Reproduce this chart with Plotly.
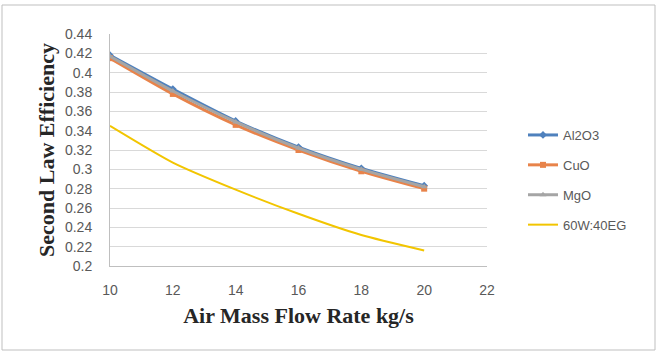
import plotly.graph_objects as go

flow = [10, 12, 14, 16, 18, 20]
al2o3 = [0.418, 0.383, 0.350, 0.323, 0.301, 0.283]
cuo = [0.415, 0.378, 0.346, 0.320, 0.298, 0.280]
mgo = [0.417, 0.381, 0.349, 0.322, 0.300, 0.282]
base = [0.345, 0.307, 0.279, 0.254, 0.232, 0.216]

yticks = [0.2, 0.22, 0.24, 0.26, 0.28, 0.3, 0.32, 0.34, 0.36, 0.38, 0.4, 0.42, 0.44]
yticktext = ["0.2", "0.22", "0.24", "0.26", "0.28", "0.3", "0.32", "0.34", "0.36", "0.38", "0.4", "0.42", "0.44"]
xticks = [10, 12, 14, 16, 18, 20, 22]

L, R, T, B = 110, 170, 34, 86
W, H = 657, 352
pw, ph = W - L - R, H - T - B

fig = go.Figure()
series = [
    ("Al2O3", al2o3, "#4F81BD", "diamond", 3),
    ("CuO", cuo, "#E8834A", "square", 3),
    ("MgO", mgo, "#A5A5A5", "triangle-up", 3),
    ("60W:40EG", base, "#F2C500", None, 2),
]
for name, ys, col, sym, w in series:
    kw = dict(mode="lines+markers", marker=dict(symbol=sym, size=6, color=col)) if sym else dict(mode="lines")
    fig.add_trace(go.Scatter(x=flow, y=ys, name=name, legendgroup=name,
                             line=dict(color=col, width=w, shape="spline", smoothing=0.6), **kw))

fig.update_layout(
    width=W, height=H,
    margin=dict(l=L, r=R, t=T, b=B),
    plot_bgcolor="white", paper_bgcolor="white",
    font=dict(family="Liberation Sans", size=14, color="#595959"),
    legend=dict(x=(523 - L) / pw, y=(H - B - 120) / ph, xanchor="left", yanchor="top",
                tracegroupgap=10, font=dict(size=13, color="#595959"), bgcolor="rgba(0,0,0,0)"),
    xaxis=dict(range=[10, 22], tickvals=xticks, showgrid=False, zeroline=False,
               showline=True, linecolor="#BFBFBF", ticks="", ticklabelstandoff=11,
               tickfont=dict(size=14),
               title=dict(text="<b>Air Mass Flow Rate kg/s</b>", standoff=10,
                          font=dict(family="Liberation Serif", size=22, color="#262626"))),
    yaxis=dict(range=[0.2, 0.44], tickvals=yticks, ticktext=yticktext, showgrid=True,
               gridcolor="#D9D9D9", gridwidth=1, zeroline=False,
               showline=True, linecolor="#BFBFBF", ticks="", ticklabelstandoff=14,
               tickfont=dict(size=14),
               title=dict(text="<b>Second Law Efficiency</b>", standoff=4,
                          font=dict(family="Liberation Serif", size=22, color="#262626"))),
    shapes=[dict(type="rect", xref="paper", yref="paper",
                 x0=(2 - L) / pw, x1=(655 - L) / pw, y0=(H - B - 350) / ph, y1=(H - B - 5) / ph,
                 line=dict(color="#BFBFBF", width=1), fillcolor="rgba(0,0,0,0)", layer="below")],
)
fig.write_html("out.html")
